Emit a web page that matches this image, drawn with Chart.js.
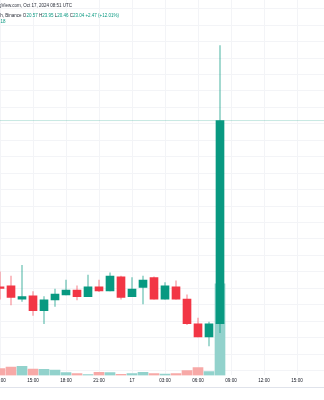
<!DOCTYPE html>
<html>
<head>
<meta charset="utf-8">
<script src="https://cdn.jsdelivr.net/npm/chart.js@4/dist/chart.umd.min.js"></script>
<style>
  html, body { margin: 0; padding: 0; background: #fff; overflow: hidden; }
  #wrap { position: relative; width: 324px; height: 387px; border-bottom: 1px solid #e0e3eb; }
  .legend { position: absolute; white-space: nowrap; font-family: "Liberation Sans", Arial, sans-serif;
            font-size: 4.5px; line-height: 5px; color: #2a2e39; text-align: right; }
  .g { color: #089981; }
</style>
</head>
<body>
<div id="wrap">
  <canvas id="candles" width="324" height="387"></canvas>
  <div class="legend" style="right:252px; top:3px;">Published on TradingView.com, Oct 17, 2024 08:51 UTC</div>
  <div class="legend" style="right:205px; top:13px;">Injective / TetherUS, 1h, Binance O<span class="g">20.57</span> H<span class="g">23.95</span> L<span class="g">20.46</span> C<span class="g">23.04</span> <span class="g">+2.47 (+12.01%)</span></div>
  <div class="legend g" style="right:318.5px; top:19px;">Vol · INJ 2.31M 5.18</div>
</div>
<script>
// =====================
// INJ/USDT 1h candles
// =====================
var times = ['12:00', '13:00', '14:00', '15:00', '16:00', '17:00', '18:00', '19:00', '20:00', '21:00',
             '22:00', '23:00', '00:00', '01:00', '02:00', '03:00', '04:00', '05:00', '06:00', '07:00', '08:00'];
var open  = [21.02, 21.03, 20.87, 20.91, 20.73, 20.86, 20.92, 20.98, 20.90, 21.02,
             20.97, 21.14, 20.90, 21.01, 21.13, 20.87, 21.02, 20.87, 20.57, 20.41, 20.57];
var high  = [21.20, 21.15, 21.28, 20.96, 20.90, 20.99, 21.10, 21.03, 21.16, 21.10,
             21.19, 21.15, 21.13, 21.15, 21.14, 21.07, 21.09, 20.92, 20.64, 20.59, 23.95];
var low   = [20.87, 20.80, 20.84, 20.67, 20.57, 20.78, 20.92, 20.86, 20.90, 20.96,
             20.97, 20.87, 20.90, 20.81, 20.87, 20.87, 20.87, 20.56, 20.41, 20.30, 20.46];
var close = [21.00, 20.89, 20.90, 20.73, 20.86, 20.93, 20.98, 20.90, 21.02, 20.97,
             21.15, 20.89, 20.99, 21.10, 20.87, 21.03, 20.87, 20.57, 20.41, 20.57, 23.04];
var volume = [175, 208, 232, 158, 157, 138, 75, 50, 25, 76,
              74, 30, 50, 76, 50, 33, 50, 125, 200, 100, 2300]; // K

// x axis labels every 3 hours, starting at the first candle
var tickLabels = ['12:00', '15:00', '18:00', '21:00', '17', '03:00', '06:00', '09:00', '12:00', '15:00'];
var tickStep = 3;

// price grid every 0.2
var priceGrid = [20.0, 20.2, 20.4, 20.6, 20.8, 21.0, 21.2, 21.4, 21.6, 21.8, 22.0,
                 22.2, 22.4, 22.6, 22.8, 23.0, 23.2, 23.4, 23.6, 23.8, 24.0, 24.2, 24.4];

var UP = '#089981', DOWN = '#F23645';
var UP_WICK = 'rgba(8,153,129,0.45)', DOWN_WICK = 'rgba(242,54,69,0.4)';
var UP_VOL = '#92D2CC', DOWN_VOL = '#F7A9A7';
var GRID = '#f3f4f7';

var isUp = close.map(function (c, i) { return c >= open[i]; });
var last = close.length - 1;

var ctx = document.getElementById('candles').getContext('2d');

var chart = new Chart(ctx, {
  type: 'bar',
  data: {
    datasets: [
      {
        // bodies
        order: 1,
        data: times.map(function (t, i) { return { x: i, y: [open[i], close[i]] }; }),
        backgroundColor: isUp.map(function (u) { return u ? UP : DOWN; }),
        barThickness: 8,
        minBarLength: 1,
        yAxisID: 'y'
      },
      {
        // wicks
        order: 2,
        data: times.map(function (t, i) { return { x: i, y: [low[i], high[i]] }; }),
        backgroundColor: isUp.map(function (u) { return u ? UP_WICK : DOWN_WICK; }),
        barThickness: 1,
        yAxisID: 'y'
      },
      {
        // last price line
        type: 'line',
        order: 3,
        data: [{ x: -1, y: close[last] }, { x: 40, y: close[last] }],
        borderColor: 'rgba(8,153,129,0.22)',
        borderWidth: 1,
        pointRadius: 0,
        yAxisID: 'y'
      },
      {
        // volume
        order: 4,
        data: times.map(function (t, i) { return { x: i, y: volume[i] }; }),
        backgroundColor: isUp.map(function (u) { return u ? UP_VOL : DOWN_VOL; }),
        barThickness: 10,
        yAxisID: 'yv'
      }
    ]
  },
  options: {
    responsive: false,
    animation: false,
    events: [],
    layout: { autoPadding: false, padding: { left: 0, right: 0, top: 0, bottom: 2 } },
    datasets: { bar: { grouped: false } },
    plugins: { legend: { display: false }, tooltip: { enabled: false } },
    scales: {
      x: {
        type: 'linear',
        min: 0,
        max: 29.4545,
        offset: false,
        afterBuildTicks: function (scale) {
          scale.ticks = tickLabels.map(function (l, k) { return { value: k * tickStep }; });
        },
        afterFit: function (scale) {
          scale.paddingLeft = 0;
          scale.paddingRight = 0;
        },
        ticks: {
          autoSkip: false,
          maxRotation: 0,
          padding: 2,
          color: '#131722',
          font: { family: '"Liberation Sans", Arial, sans-serif', size: 4.6 },
          callback: function (v, k) { return tickLabels[k]; }
        },
        grid: { color: GRID, drawTicks: false, offset: false },
        border: { display: false }
      },
      y: {
        min: 19.941,
        max: 24.505,
        afterBuildTicks: function (scale) {
          scale.ticks = priceGrid.map(function (p) { return { value: p }; });
        },
        afterFit: function (scale) {
          scale.width = 0;
        },
        ticks: { display: false },
        grid: { color: GRID, drawTicks: false },
        border: { display: false }
      },
      yv: {
        display: false,
        min: 0,
        max: 9425
      }
    }
  }
});
</script>
</body>
</html>
